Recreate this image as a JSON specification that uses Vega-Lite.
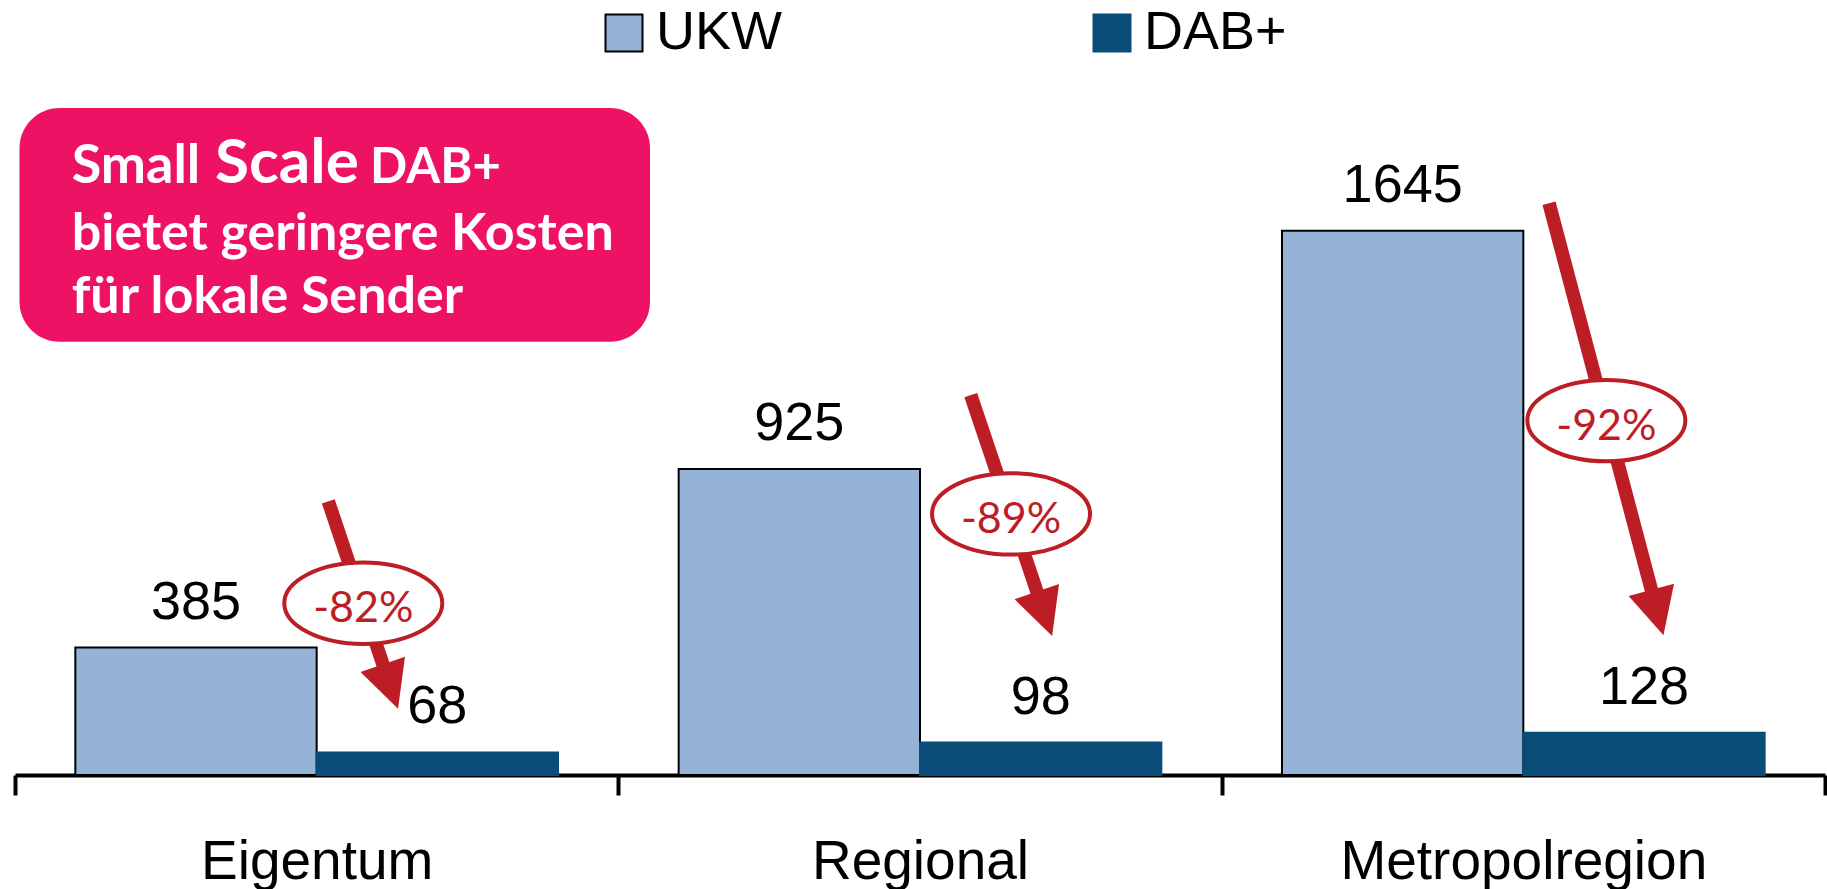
{
  "$schema": "https://vega.github.io/schema/vega-lite/v6.json",
  "width": 1810,
  "height": 775,
  "autosize": "none",
  "padding": {"left": 15, "top": 0, "right": 2, "bottom": 114},
  "background": "white",
  "config": {"view": {"stroke": null}, "font": "Liberation Sans"},
  "datasets": {
    "costs": [
      {"Kategorie": "Eigentum", "Technik": "UKW", "Kosten": 385},
      {"Kategorie": "Eigentum", "Technik": "DAB+", "Kosten": 68},
      {"Kategorie": "Regional", "Technik": "UKW", "Kosten": 925},
      {"Kategorie": "Regional", "Technik": "DAB+", "Kosten": 98},
      {"Kategorie": "Metropolregion", "Technik": "UKW", "Kosten": 1645},
      {"Kategorie": "Metropolregion", "Technik": "DAB+", "Kosten": 128}
    ],
    "arrows": [
      {"Kategorie": "Eigentum", "Label": "-82%", "from_x": 0.5193, "from_y": 827, "head_x": 0.6222, "head_y": 267, "ell_x": 0.5773, "ell_y": 519},
      {"Kategorie": "Regional", "Label": "-89%", "from_x": 1.5841, "from_y": 1148, "head_x": 1.7063, "head_y": 487, "ell_x": 1.6509, "ell_y": 789},
      {"Kategorie": "Metropolregion", "Label": "-92%", "from_x": 2.5426, "from_y": 1728, "head_x": 2.7222, "head_y": 491, "ell_x": 2.6376, "ell_y": 1071}
    ],
    "callout": [
      {"Text": "Small", "Teil": "erste", "px": 0.094, "py": 1789},
      {"Text": "Scale", "Teil": "gross", "px": 0.3315, "py": 1789},
      {"Text": "DAB+", "Teil": "klein", "px": 0.5884, "py": 1789},
      {"Text": "bietet geringere Kosten", "Teil": "normal", "px": 0.094, "py": 1587},
      {"Text": "für lokale Sender", "Teil": "normal", "px": 0.094, "py": 1396}
    ]
  },
  "layer": [
    {
      "data": {"name": "costs"},
      "encoding": {
        "x": {
          "field": "Kategorie", "type": "nominal",
          "sort": ["Eigentum", "Regional", "Metropolregion"],
          "scale": {"paddingInner": 0, "paddingOuter": 0},
          "axis": {
            "title": null, "labelAngle": 0,
            "domainColor": "#000000", "domainWidth": 4,
            "tickColor": "#000000", "tickWidth": 4, "tickSize": 20, "tickBand": "extent",
            "labelFont": "Liberation Sans", "labelFontSize": 55, "labelColor": "#000000",
            "labelBaseline": "alphabetic", "labelPadding": 83, "labelLimit": 0
          }
        },
        "xOffset": {
          "field": "Technik", "type": "nominal", "sort": ["UKW", "DAB+"],
          "scale": {"paddingInner": 0, "paddingOuter": 0.25}
        },
        "y": {
          "field": "Kosten", "type": "quantitative",
          "scale": {"domain": [0, 2342], "nice": false}, "axis": null
        }
      },
      "layer": [
        {
          "mark": {"type": "bar", "strokeWidth": 2, "opacity": 1},
          "encoding": {
            "fill": {
              "field": "Technik", "type": "nominal",
              "scale": {"domain": ["UKW", "DAB+"], "range": ["#95B3D7", "#0A4C78"]},
              "legend": {
                "title": null, "orient": "none", "legendX": 582, "legendY": 6,
                "direction": "horizontal", "symbolType": "square", "symbolSize": 1369,
                "symbolStrokeWidth": 2, "symbolOpacity": 1,
                "labelFont": "Liberation Sans", "labelFontSize": 54, "labelColor": "#000000",
                "labelOffset": 5, "columnPadding": 303, "padding": 0, "labelLimit": 0
              }
            },
            "stroke": {
              "field": "Technik", "type": "nominal",
              "scale": {"domain": ["UKW", "DAB+"], "range": ["#000000", "#0A4C78"]}
            }
          }
        },
        {
          "mark": {"type": "text", "dy": -29, "baseline": "alphabetic", "align": "center",
                   "font": "Liberation Sans", "fontSize": 54, "color": "#000000"},
          "encoding": {"text": {"field": "Kosten", "type": "quantitative"}}
        }
      ]
    },
    {
      "layer": [
        {
          "data": {"values": [{}]},
          "mark": {"type": "rect", "fill": "#EE1265", "cornerRadius": 40},
          "encoding": {
            "x": {"datum": 0.0075, "type": "quantitative", "scale": {"domain": [0, 3], "nice": false, "zero": false}, "axis": null},
            "x2": {"datum": 1.0525},
            "y": {"datum": 2016, "type": "quantitative", "scale": {"domain": [0, 2342], "nice": false}, "axis": null},
            "y2": {"datum": 1309}
          }
        },
        {
          "data": {"name": "callout"},
          "transform": [{"filter": "datum.Teil === 'normal'"}],
          "mark": {"type": "text", "font": "Lato", "fontWeight": "bold", "fontSize": 52, "color": "#FFFFFF", "align": "left", "baseline": "alphabetic"},
          "encoding": {
            "x": {"field": "px", "type": "quantitative", "scale": {"domain": [0, 3], "nice": false, "zero": false}, "axis": null},
            "y": {"field": "py", "type": "quantitative", "scale": {"domain": [0, 2342], "nice": false}, "axis": null},
            "text": {"field": "Text"}
          }
        },
        {
          "data": {"name": "callout"},
          "transform": [{"filter": "datum.Teil === 'erste'"}],
          "mark": {"type": "text", "font": "Lato", "fontWeight": "bold", "fontSize": 54, "color": "#FFFFFF", "align": "left", "baseline": "alphabetic"},
          "encoding": {
            "x": {"field": "px", "type": "quantitative", "scale": {"domain": [0, 3], "nice": false, "zero": false}, "axis": null},
            "y": {"field": "py", "type": "quantitative", "scale": {"domain": [0, 2342], "nice": false}, "axis": null},
            "text": {"field": "Text"}
          }
        },
        {
          "data": {"name": "callout"},
          "transform": [{"filter": "datum.Teil === 'gross'"}],
          "mark": {"type": "text", "font": "Lato", "fontWeight": "bold", "fontSize": 62, "color": "#FFFFFF", "align": "left", "baseline": "alphabetic"},
          "encoding": {
            "x": {"field": "px", "type": "quantitative", "scale": {"domain": [0, 3], "nice": false, "zero": false}, "axis": null},
            "y": {"field": "py", "type": "quantitative", "scale": {"domain": [0, 2342], "nice": false}, "axis": null},
            "text": {"field": "Text"}
          }
        },
        {
          "data": {"name": "callout"},
          "transform": [{"filter": "datum.Teil === 'klein'"}],
          "mark": {"type": "text", "font": "Lato", "fontWeight": "bold", "fontSize": 49, "color": "#FFFFFF", "align": "left", "baseline": "alphabetic"},
          "encoding": {
            "x": {"field": "px", "type": "quantitative", "scale": {"domain": [0, 3], "nice": false, "zero": false}, "axis": null},
            "y": {"field": "py", "type": "quantitative", "scale": {"domain": [0, 2342], "nice": false}, "axis": null},
            "text": {"field": "Text"}
          }
        },
        {
          "data": {"name": "arrows"},
          "mark": {"type": "rule", "color": "#BD1E26", "strokeWidth": 13.5, "strokeCap": "butt"},
          "encoding": {
            "x": {"field": "from_x", "type": "quantitative", "scale": {"domain": [0, 3], "nice": false, "zero": false}, "axis": null},
            "y": {"field": "from_y", "type": "quantitative", "scale": {"domain": [0, 2342], "nice": false}, "axis": null},
            "x2": {"field": "head_x"},
            "y2": {"field": "head_y"}
          }
        },
        {
          "data": {"name": "arrows"},
          "transform": [{"filter": "datum.Kategorie !== 'Metropolregion'"}],
          "mark": {"type": "point", "shape": "M-1,-1L1,-1L0,1Z", "size": 2209, "filled": true, "color": "#BD1E26", "opacity": 1, "angle": 341},
          "encoding": {
            "x": {"field": "head_x", "type": "quantitative", "scale": {"domain": [0, 3], "nice": false, "zero": false}, "axis": null},
            "y": {"field": "head_y", "type": "quantitative", "scale": {"domain": [0, 2342], "nice": false}, "axis": null}
          }
        },
        {
          "data": {"name": "arrows"},
          "transform": [{"filter": "datum.Kategorie === 'Metropolregion'"}],
          "mark": {"type": "point", "shape": "M-1,-1L1,-1L0,1Z", "size": 2209, "filled": true, "color": "#BD1E26", "opacity": 1, "angle": 345},
          "encoding": {
            "x": {"field": "head_x", "type": "quantitative", "scale": {"domain": [0, 3], "nice": false, "zero": false}, "axis": null},
            "y": {"field": "head_y", "type": "quantitative", "scale": {"domain": [0, 2342], "nice": false}, "axis": null}
          }
        },
        {
          "data": {"name": "arrows"},
          "mark": {"type": "point", "shape": "M-1,0A1,0.515,0,1,0,1,0A1,0.515,0,1,0,-1,0Z", "size": 24964, "filled": true, "fill": "#FFFFFF", "stroke": "#BD1E26", "strokeWidth": 4, "opacity": 1},
          "encoding": {
            "x": {"field": "ell_x", "type": "quantitative", "scale": {"domain": [0, 3], "nice": false, "zero": false}, "axis": null},
            "y": {"field": "ell_y", "type": "quantitative", "scale": {"domain": [0, 2342], "nice": false}, "axis": null}
          }
        },
        {
          "data": {"name": "arrows"},
          "mark": {"type": "text", "font": "Lato", "fontSize": 43, "color": "#BD1E26", "align": "center", "baseline": "alphabetic", "dy": 19},
          "encoding": {
            "x": {"field": "ell_x", "type": "quantitative", "scale": {"domain": [0, 3], "nice": false, "zero": false}, "axis": null},
            "y": {"field": "ell_y", "type": "quantitative", "scale": {"domain": [0, 2342], "nice": false}, "axis": null},
            "text": {"field": "Label"}
          }
        }
      ]
    }
  ],
  "resolve": {"scale": {"x": "independent"}}
}
